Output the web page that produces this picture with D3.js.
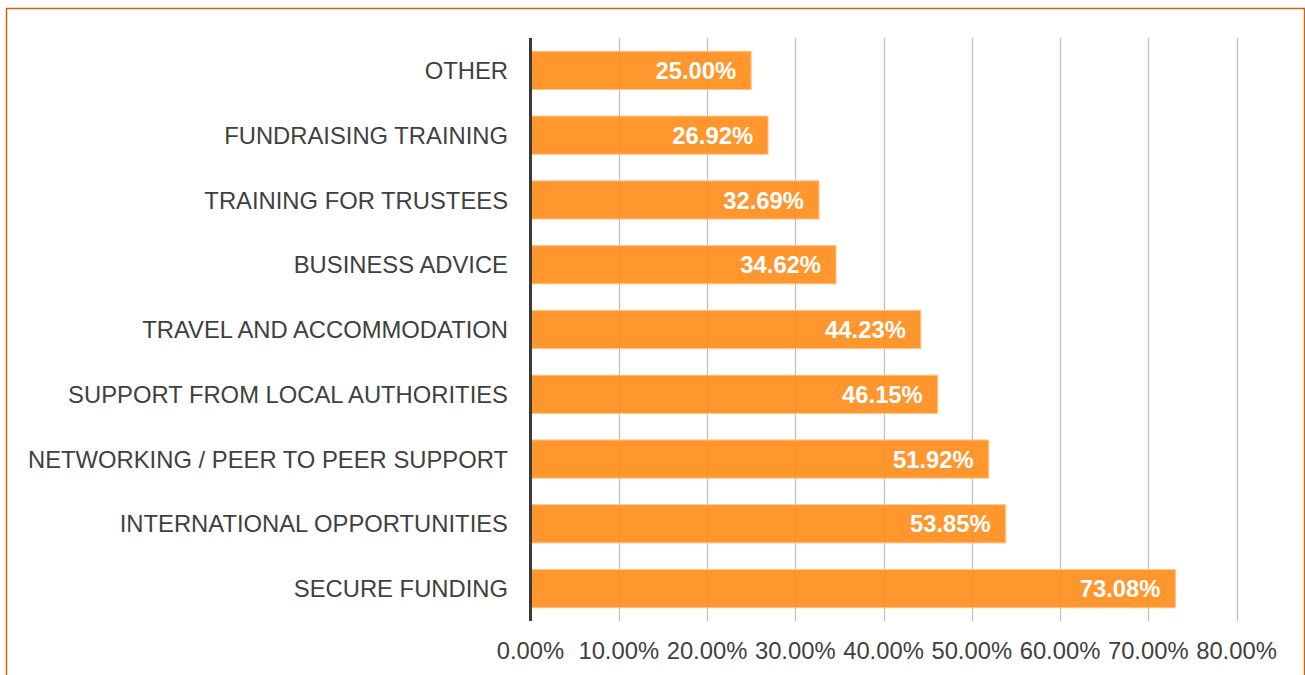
<!DOCTYPE html>
<html>
<head>
<meta charset="utf-8">
<script src="https://cdn.jsdelivr.net/npm/d3@7"></script>
<style>
    body { margin: 0; background: #fff; }
    svg { display: block; font-family: "Liberation Sans", Arial, sans-serif; }
</style>
</head>
<body>
<div id="chart"></div>
<script>
'use strict';

var categories = [
    'OTHER',
    'FUNDRAISING TRAINING',
    'TRAINING FOR TRUSTEES',
    'BUSINESS ADVICE',
    'TRAVEL AND ACCOMMODATION',
    'SUPPORT FROM LOCAL AUTHORITIES',
    'NETWORKING / PEER TO PEER SUPPORT',
    'INTERNATIONAL OPPORTUNITIES',
    'SECURE FUNDING'
];
var values = [25.00, 26.92, 32.69, 34.62, 44.23, 46.15, 51.92, 53.85, 73.08];
var ticks = [0, 10, 20, 30, 40, 50, 60, 70, 80];

var width = 1305, height = 675;
var margin = { left: 530.5, right: 68.5, top: 38, bottom: 54 };
var fontSize = '23.8px';

var svg = d3.select('#chart').append('svg')
    .attr('width', width)
    .attr('height', height);

// outer frame
svg.append('rect')
    .attr('x', 6.5).attr('y', 8.5)
    .attr('width', width - 7).attr('height', height)
    .attr('fill', 'none')
    .attr('stroke', '#C8640F')
    .attr('stroke-width', 1.5);

var x = d3.scaleLinear().domain([0, 80]).range([margin.left, width - margin.right]);
var y = d3.scaleBand().domain(categories)
    .range([margin.top, height - margin.bottom])
    .paddingInner(0.41).paddingOuter(0.205);

var data = categories.map(function(c, i) { return { cat: c, val: values[i] }; });

// gridlines
svg.append('g').selectAll('line')
    .data(ticks.slice(1))
    .enter().append('line')
    .attr('x1', function(d) { return Math.round(x(d)) + 0.5; })
    .attr('x2', function(d) { return Math.round(x(d)) + 0.5; })
    .attr('y1', margin.top)
    .attr('y2', height - margin.bottom)
    .style('stroke', '#bdbdbd')
    .style('stroke-width', 1.2);

// bars
svg.append('g').selectAll('rect')
    .data(data)
    .enter().append('rect')
    .attr('x', x(0))
    .attr('y', function(d) { return y(d.cat); })
    .attr('width', function(d) { return x(d.val) - x(0); })
    .attr('height', y.bandwidth())
    .attr('fill', '#FF8B17')
    .attr('fill-opacity', 0.9)
    .attr('stroke', '#FFC58A')
    .attr('stroke-width', 1);

// value labels
svg.append('g').selectAll('text')
    .data(data)
    .enter().append('text')
    .attr('x', function(d) { return x(d.val) - 15; })
    .attr('y', function(d) { return y(d.cat) + y.bandwidth() / 2; })
    .attr('dy', '0.36em')
    .attr('text-anchor', 'end')
    .attr('fill', '#fff')
    .style('font-size', fontSize)
    .style('font-weight', 'bold')
    .text(function(d) { return d.val.toFixed(2) + '%'; });

// category labels
svg.append('g').selectAll('text')
    .data(categories)
    .enter().append('text')
    .attr('x', 508)
    .attr('y', function(d) { return y(d) + y.bandwidth() / 2; })
    .attr('dy', '0.36em')
    .attr('text-anchor', 'end')
    .attr('fill', '#404040')
    .style('font-size', fontSize)
    .text(function(d) { return d; });

// x tick labels
svg.append('g').selectAll('text')
    .data(ticks)
    .enter().append('text')
    .attr('x', function(d) { return x(d); })
    .attr('y', 659)
    .attr('text-anchor', 'middle')
    .attr('fill', '#404040')
    .style('font-size', fontSize)
    .text(function(d) { return d.toFixed(2) + '%'; });

// value axis line
svg.append('line')
    .attr('x1', x(0)).attr('x2', x(0))
    .attr('y1', margin.top).attr('y2', height - margin.bottom)
    .style('stroke', '#3a3a3a')
    .style('stroke-width', 3);
</script>
</body>
</html>
